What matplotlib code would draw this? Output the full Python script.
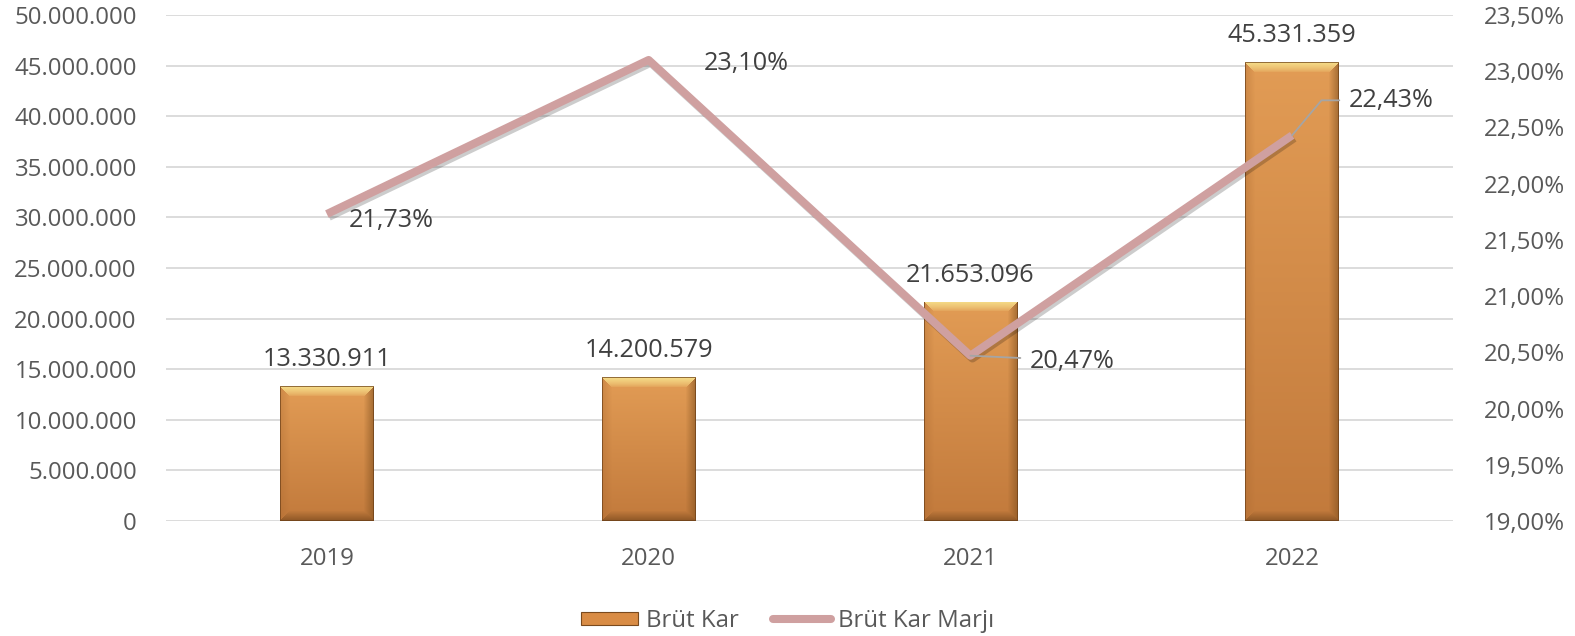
import matplotlib
matplotlib.use("Agg")
import matplotlib.pyplot as plt
import numpy as np
import matplotlib.patheffects as pe
from matplotlib.colors import to_rgb
from matplotlib.patches import Rectangle
from matplotlib.lines import Line2D

years = ["2019", "2020", "2021", "2022"]
brut_kar = [13330911, 14200579, 21653096, 45331359]
marj = [21.73, 23.10, 20.47, 22.43]
bar_labels = ["13.330.911", "14.200.579", "21.653.096", "45.331.359"]
marj_labels = ["21,73%", "23,10%", "20,47%", "22,43%"]
left_ticks = [0, 5e6, 10e6, 15e6, 20e6, 25e6, 30e6, 35e6, 40e6, 45e6, 50e6]
left_ticklabels = ["0", "5.000.000", "10.000.000", "15.000.000", "20.000.000", "25.000.000",
                   "30.000.000", "35.000.000", "40.000.000", "45.000.000", "50.000.000"]
right_ticks = [19.0, 19.5, 20.0, 20.5, 21.0, 21.5, 22.0, 22.5, 23.0, 23.5]
right_ticklabels = ["19,00%", "19,50%", "20,00%", "20,50%", "21,00%", "21,50%",
                    "22,00%", "22,50%", "23,00%", "23,50%"]

plt.rcParams['font.family'] = ['Open Sans', 'DejaVu Sans']
TICK_C = "#595959"
LAB_C = "#404040"
FS = 17.3
LFS = 18.2
LINE_C = "#CFA0A0"

fig = plt.figure(figsize=(15.75, 6.36), dpi=100)
ax = fig.add_axes([166/1575, 1-521/636, 1287/1575, 506/636])
x = np.arange(len(years))
bw = 0.29
ax.set_xlim(-0.5, 3.5)
ax.set_ylim(0, 50e6)
bars = ax.bar(x, brut_kar, width=bw, color="#D98C45", edgecolor="none", linewidth=0, zorder=2)


def bevel_image(hpx, wpx):
    hpx = max(int(round(hpx)), 2)
    wpx = max(int(round(wpx)), 2)
    rows = np.arange(hpx)[:, None] * np.ones((1, wpx))  # 0 = top
    cols = np.ones((hpx, 1)) * np.arange(wpx)[None, :]
    t = rows / (hpx - 1)  # 0 top -> 1 bottom
    top_c = np.array(to_rgb("#E29C55"))
    bot_c = np.array(to_rgb("#C27A3C"))
    img = top_c[None, None, :] * (1 - t[..., None]) + bot_c[None, None, :] * t[..., None]
    b = 10.0
    dt = rows
    db = hpx - 1 - rows
    dl = cols
    dr = wpx - 1 - cols
    dmin = np.minimum(np.minimum(dt, db), np.minimum(dl, dr))

    def blend(img, mask, color, f):
        c = np.array(to_rgb(color))
        ff = (f * mask)[..., None]
        return img * (1 - ff) + c[None, None, :] * ff

    top_m = (dt == dmin) & (dt < b)
    img = blend(img, top_m, "#F5DC88", np.clip(1 - dt / b, 0, 1) ** 0.7)
    bot_m = (db == dmin) & (db < b) & ~top_m
    img = blend(img, bot_m, "#7A4A1E", np.clip(1 - db / b, 0, 1) * 0.7)
    r_m = (dr == dmin) & (dr < b) & ~top_m & ~bot_m
    img = blend(img, r_m, "#80501F", np.clip(1 - dr / b, 0, 1) * 0.6)
    l_m = (dl == dmin) & (dl < b) & ~top_m & ~bot_m & ~r_m
    img = blend(img, l_m, "#A8672F", np.clip(1 - dl / b, 0, 1) * 0.35)
    edge = (dmin < 1)
    img = blend(img, edge, "#6B3F18", 0.7)
    return np.clip(img, 0, 1)


for b in bars:
    x0, y0, w, h = b.get_x(), b.get_y(), b.get_width(), b.get_height()
    p0 = ax.transData.transform((x0, y0))
    p1 = ax.transData.transform((x0 + w, y0 + h))
    img = bevel_image(abs(p1[1] - p0[1]), abs(p1[0] - p0[0]))
    im = ax.imshow(img, extent=[x0, x0 + w, y0, y0 + h], origin="upper", aspect="auto",
                   zorder=2.1, interpolation="nearest")
    im.set_clip_path(b)
ax.set_xlim(-0.5, 3.5)
ax.set_ylim(0, 50e6)
ax.set_yticks(left_ticks)
ax.set_yticklabels(left_ticklabels)
ax.yaxis.grid(True, color="#D9D9D9", linewidth=1.3, zorder=0)
ax.set_axisbelow(True)
for s in ax.spines.values():
    s.set_visible(False)
ax.tick_params(axis="y", length=0, pad=21, labelsize=FS, labelcolor=TICK_C)
ax.set_xticks(x)
ax.set_xticklabels(years)
ax.tick_params(axis="x", length=0, pad=19, labelsize=FS, labelcolor=TICK_C)

for xi, v, lab in zip(x, brut_kar, bar_labels):
    ax.annotate(lab, (xi, v), xytext=(0, 14.4), textcoords="offset points", ha="center",
                va="baseline", fontsize=LFS, color=LAB_C)

ax2 = ax.twinx()
ax2.set_ylim(19.0, 23.5)
ax2.set_yticks(right_ticks)
ax2.set_yticklabels(right_ticklabels)
for s in ax2.spines.values():
    s.set_visible(False)
ax2.tick_params(axis="y", length=0, pad=22, labelsize=FS, labelcolor=TICK_C)
ax2.plot(x, marj, color=LINE_C, linewidth=5.8, solid_capstyle="butt", zorder=3,
         path_effects=[pe.SimpleLineShadow(offset=(1.5, -2), alpha=0.2), pe.Normal()])

# data labels
ax2.annotate(marj_labels[0], (x[0], marj[0]), xytext=(16, -9.7), textcoords="offset points",
             ha="left", va="baseline", fontsize=LFS, color=LAB_C)
ax2.annotate(marj_labels[1], (x[1], marj[1]), xytext=(40, -7.5), textcoords="offset points",
             ha="left", va="baseline", fontsize=LFS, color=LAB_C)
ax2.annotate(marj_labels[2], (x[2], marj[2]), xytext=(43, -8.8), textcoords="offset points",
             ha="left", va="baseline", fontsize=LFS, color=LAB_C,
             arrowprops=dict(arrowstyle="-", color="#A5A5A5", lw=1.3, shrinkA=5, shrinkB=0,
                             relpos=(0, 0.62), connectionstyle="arc3,rad=0"))
ax2.annotate(marj_labels[3], (x[3], marj[3]), xytext=(41, 20.5), textcoords="offset points",
             ha="left", va="baseline", fontsize=LFS, color=LAB_C,
             arrowprops=dict(arrowstyle="-", color="#A5A5A5", lw=1.3, shrinkA=5, shrinkB=0,
                             relpos=(0, 0.5), connectionstyle="angle,angleA=0,angleB=50,rad=0"))

# legend
handles = [Rectangle((0, 0), 1, 1, facecolor="#D98C45", edgecolor="#7A4A1E", linewidth=0.8),
           Line2D([0], [0], color=LINE_C, linewidth=5.8, solid_capstyle="round")]
fig.legend(handles, ["Brüt Kar", "Brüt Kar Marjı"], loc="center", bbox_to_anchor=(0.5, 1-621/636),
           ncol=2, frameon=False, fontsize=FS, labelcolor=TICK_C, handlelength=2.4,
           handleheight=0.5, handletextpad=0.3, columnspacing=1.45)

fig.savefig("out.png", dpi=100)
